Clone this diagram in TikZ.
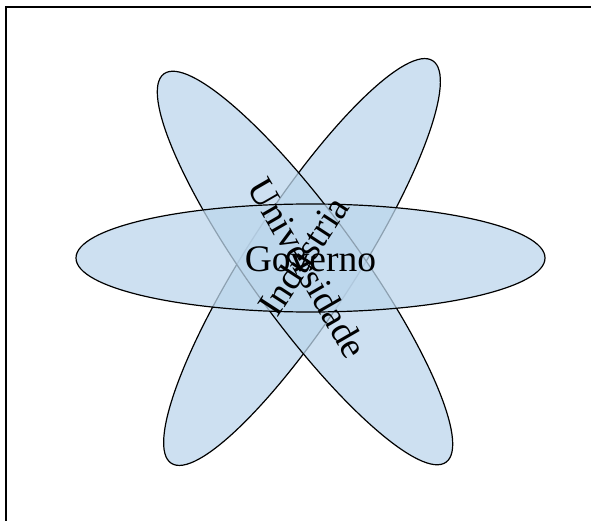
\documentclass[tikz,border=0pt]{standalone}
\usepackage{fontspec}
\setmainfont{Liberation Serif}
\usepackage{xcolor}
\usetikzlibrary{shapes.geometric, positioning}
\definecolor{helixBlue}{RGB}{188, 214, 236}

\begin{document}
\begin{tikzpicture}[
                x=1pt, y=-1pt,
                petal/.style={ellipse, draw=black, line width=1.2pt, fill=helixBlue, fill opacity=0.75, inner sep=0pt, minimum width=480pt, minimum height=108pt},
                petalText/.style={font=\fontsize{37.5}{42}\selectfont, inner sep=0pt, text=black}
            ]

                \useasboundingbox (0,0) rectangle (591,521);
                \clip (0,0) rectangle (591,521);

                % --- FRAME ---
                \draw[line width=1.5pt] (6,530) -- (6,7) -- (600,7);

                % --- ELLIPSES ---
                \node[petal, rotate=57] (ind) at (302,262) {};
                \node[petal, rotate=-54] (uni) at (305,268) {};
                \node[petal, minimum width=469pt] (gov) at (310.5,258) {};

                % Labels on top
                \node[petalText, rotate=-60] (uni_lbl) at ([xshift=3pt]uni.center) {Universidade};
                \node[petalText, rotate=57] (ind_lbl) at ([xshift=1pt,yshift=6pt]ind.center) {Industria};
                \node[petalText] (gov_lbl) at ([yshift=-1pt]gov.center) {Governo};

\end{tikzpicture}
\end{document}
